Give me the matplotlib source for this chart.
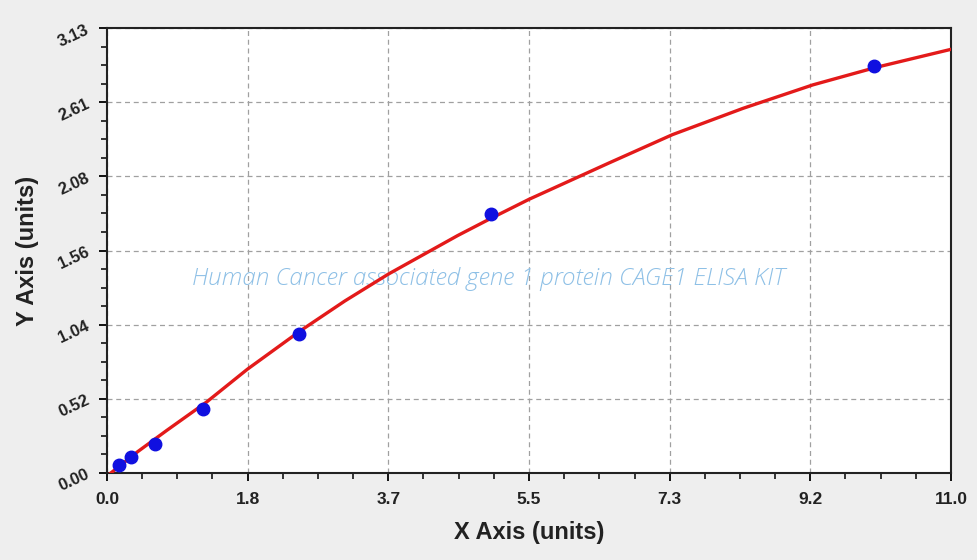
import matplotlib
matplotlib.use("Agg")
import matplotlib.pyplot as plt
from matplotlib.ticker import AutoMinorLocator

# Standards (concentration, OD)
std_x = [0.156, 0.312, 0.625, 1.25, 2.5, 5.0, 10.0]
std_y = [0.056, 0.115, 0.204, 0.449, 0.98, 1.82, 2.865]

# Fitted curve
curve_x = [0.05, 0.40, 0.78, 1.30, 1.83, 2.52, 3.10, 3.67, 4.57, 5.00, 5.50, 6.54, 7.37, 8.29, 9.20, 10.03, 11.0]
curve_y = [0.00, 0.15, 0.30, 0.50, 0.73, 1.00, 1.21, 1.40, 1.67, 1.79, 1.925, 2.18, 2.38, 2.565, 2.73, 2.854, 2.98]

xticks = [0.0, 11.0/6, 11.0/3, 5.5, 22.0/3, 55.0/6, 11.0]
xticklabels = ["0.0", "1.8", "3.7", "5.5", "7.3", "9.2", "11.0"]
yticks = [0.0, 3.13/6, 3.13/3, 3.13/2, 3.13*2/3, 3.13*5/6, 3.13]
yticklabels = ["0.00", "0.52", "1.04", "1.56", "2.08", "2.61", "3.13"]

watermark = "Human Cancer associated gene 1 protein CAGE1 ELISA KIT"

plt.rcParams['font.family'] = ['Liberation Sans', 'DejaVu Sans']

fig = plt.figure(figsize=(9.78, 5.6), dpi=100, facecolor="#eeeeee")
ax = fig.add_axes([107/978, 87/560, (951-107)/978, (473-28)/560])
ax.set_facecolor("white")

ax.plot(curve_x, curve_y, color="#e31a1a", lw=2.4, zorder=3)
ax.plot(std_x, std_y, 'o', color="#1010e0", ms=9, zorder=4)

ax.set_xlim(0, 11.0)
ax.set_ylim(0, 3.13)
ax.set_xticks(xticks)
ax.set_xticklabels(xticklabels, fontsize=12.5, fontweight="bold", color="#222222")
ax.set_yticks(yticks)
ax.set_yticklabels(yticklabels, fontsize=12, fontweight="bold", color="#222222", rotation=25)
ax.xaxis.set_minor_locator(AutoMinorLocator(4))
ax.yaxis.set_minor_locator(AutoMinorLocator(4))
ax.tick_params(which="major", direction="out", length=6, width=1.3, pad=5)
ax.tick_params(which="minor", direction="out", length=4, width=1.1)
ax.tick_params(axis="x", pad=8)

ax.grid(True, which="major", linestyle=(0, (4, 3)), color="#a0a0a0", lw=0.9)
for s in ax.spines.values():
    s.set_linewidth(1.5)
    s.set_color("#222222")

ax.set_xlabel("X Axis (units)", fontsize=17, fontweight="bold", labelpad=10, color="#222222")
ax.set_ylabel("Y Axis (units)", fontsize=17, fontweight="bold", labelpad=12, color="#222222")

ax.text(0.452, 0.437, watermark, transform=ax.transAxes, ha="center", va="center",
        fontsize=17.5, style="italic", color="#8ec0e6", family=["Open Sans", "DejaVu Sans"],
        fontweight="light", zorder=2)

fig.savefig("out.png", dpi=100, facecolor=fig.get_facecolor())
